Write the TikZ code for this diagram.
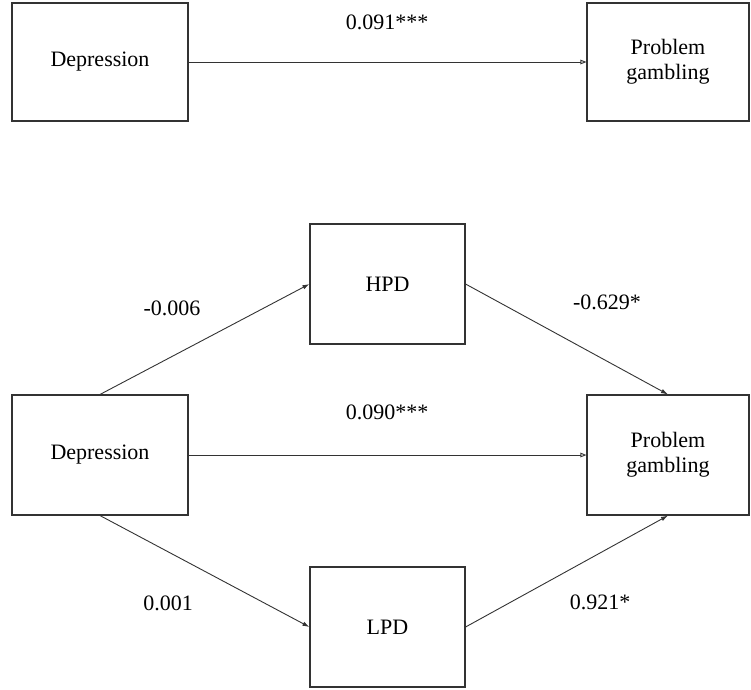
\documentclass[tikz,border=0pt]{standalone}
\usepackage{fontspec}
\setmainfont{Liberation Serif}
\usetikzlibrary{arrows.meta,positioning}

\begin{document}
\begin{tikzpicture}[x=1pt,y=-1pt, every node/.style={font=\fontsize{22}{25}\selectfont},
  box/.style={draw=black!80,line width=1.1pt,align=center,minimum width=155pt,minimum height=120pt,inner sep=0pt},
  path/.style={draw=black!80,line width=0.9pt,-{Latex[length=7pt,width=4.5pt]}},
  direct/.style={draw=black!80,line width=0.9pt,-{Triangle[open,length=6pt,width=4.5pt]}}]
  \useasboundingbox (0,0) rectangle (751,689);
  % total effect
  \node[box,minimum width=176pt,minimum height=118pt] (dep1) at (100,62) {Depression};
  \node[box,minimum width=162pt,minimum height=118pt] (pg1) at (668,62) {Problem\\gambling};
  \draw[direct] (dep1.east) -- (pg1.west);
  \node (c1) at (387,22) {0.091***};

  % mediation model
  \node[box,minimum width=176pt] (dep2) at (100,455) {Depression};
  \node[box,minimum width=162pt] (pg2) at (668,455) {Problem\\gambling};
  \node[box] (hpd) at (387.5,284) {HPD};
  \node[box] (lpd) at (387.5,627) {LPD};
  \draw[path] (dep2.north) -- (hpd.west);
  \draw[path] (hpd.east) -- (pg2.north);
  \draw[direct] (dep2.east) -- (pg2.west);
  \draw[path] (dep2.south) -- (lpd.west);
  \draw[path] (lpd.east) -- (pg2.south);
  \node (c2) at (172,308) {-0.006};
  \node (c3) at (607,302) {-0.629*};
  \node (c4) at (387,412) {0.090***};
  \node (c5) at (168,603) {0.001};
  \node (c6) at (600,602) {0.921*};
\end{tikzpicture}
\end{document}
